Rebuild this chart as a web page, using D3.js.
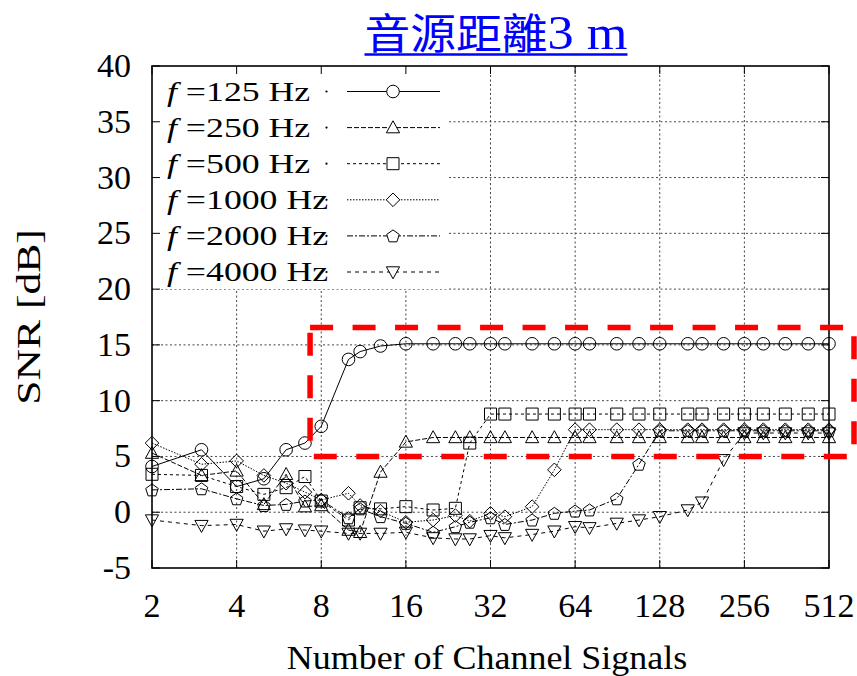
<!DOCTYPE html>
<html>
<head>
<meta charset="utf-8">
<script src="https://cdn.jsdelivr.net/npm/d3@7/dist/d3.min.js"></script>
<style>
  html, body { margin: 0; padding: 0; background: #fff; }
  svg { display: block; }
</style>
</head>
<body>
<script>
// Number of channel signals (x) and SNR per source frequency (dB)
const channels = [2, 3, 4, 5, 6, 7, 8, 10, 11, 13, 16, 20, 24, 27, 32, 36, 45, 54, 64, 72, 90, 108, 128, 161, 181, 216, 256, 299, 358, 432, 512];

const snr125  = [4.1, 5.6, 2.3, 3.0, 5.6, 6.2, 7.7, 13.7, 14.4, 14.9, 15.1, 15.1, 15.1, 15.1, 15.1, 15.1, 15.1, 15.1, 15.1, 15.1, 15.1, 15.1, 15.1, 15.1, 15.1, 15.1, 15.1, 15.1, 15.1, 15.1, 15.1];
const snr250  = [5.3, 3.3, 3.7, 0.7, 3.4, 0.5, 0.6, -1.6, -1.8, 3.6, 6.3, 6.7, 6.7, 6.7, 6.7, 6.7, 6.7, 6.7, 6.7, 6.7, 6.7, 6.7, 6.7, 6.7, 6.7, 6.7, 6.7, 6.7, 6.7, 6.7, 6.7];
const snr500  = [3.4, 3.3, 2.3, 1.6, 2.2, 3.2, 1.0, -0.7, 0.4, 0.3, 0.5, 0.2, 0.35, 6.2, 8.8, 8.8, 8.8, 8.8, 8.8, 8.8, 8.8, 8.8, 8.8, 8.8, 8.8, 8.8, 8.8, 8.8, 8.8, 8.8, 8.8];
const snr1000 = [6.2, 4.3, 4.6, 3.3, 2.6, 1.8, 1.1, 1.7, 0.6, 0.1, -0.9, -0.7, -0.3, -0.8, -0.1, -0.4, 0.5, 3.8, 7.4, 7.4, 7.4, 7.4, 7.4, 7.4, 7.4, 7.4, 7.4, 7.4, 7.4, 7.4, 7.4];
const snr2000 = [2.0, 2.1, 1.2, 0.6, 0.7, 1.0, 1.1, -0.5, 0.3, -0.4, -1.0, -1.8, -1.3, -0.9, -0.5, -1.1, -0.7, -0.1, 0.1, 0.2, 1.2, 4.3, 7.3, 7.3, 7.3, 7.3, 7.3, 7.3, 7.3, 7.3, 7.3];
const snr4000 = [-0.7, -1.2, -1.1, -1.7, -1.5, -1.6, -1.7, -1.9, -1.9, -1.9, -1.8, -2.3, -2.4, -2.4, -2.1, -2.3, -2.0, -1.7, -1.3, -1.4, -1.0, -0.7, -0.4, 0.2, 0.9, 4.7, 7.1, 7.1, 7.1, 7.1, 7.1];

const seriesLabels = ["125", "250", "500", "1000", "2000", "4000"];
const seriesValues = [snr125, snr250, snr500, snr1000, snr2000, snr4000];

const xTicks = [2, 4, 8, 16, 32, 64, 128, 256, 512];
const yTicks = [-5, 0, 5, 10, 15, 20, 25, 30, 35, 40];

// Highlighted region (data units; right edge runs past the frame)
const boxX0 = 7.3, boxY0 = 5.0, boxY1 = 16.55;

// ---- drawing ----
const W = 857, H = 676;
const SERIF = "'Liberation Serif', 'Times New Roman', Times, 'DejaVu Serif', serif";
const svg = d3.select("body").append("svg").attr("width", W).attr("height", H);

const x = d3.scaleLog().base(2).domain([2, 512]).range([152, 829]);
const y = d3.scaleLinear().domain([-5, 40]).range([568, 66]);

const styles = [
  { dash: null,        marker: "circle" },
  { dash: "5,2",       marker: "triangle" },
  { dash: "3,3",       marker: "square" },
  { dash: "1.5,1.5",   marker: "diamond" },
  { dash: "6,2,2,2",   marker: "pentagon" },
  { dash: "4,4",       marker: "triangleDown" }
];

function markerPath(kind) {
  const p = d3.path();
  if (kind === "circle") {
    p.arc(0, 0, 6.3, 0, 2 * Math.PI);
  } else if (kind === "square") {
    p.rect(-6, -6, 12, 12);
  } else if (kind === "triangle") {
    p.moveTo(0, -6.8); p.lineTo(6.6, 5.2); p.lineTo(-6.6, 5.2); p.closePath();
  } else if (kind === "triangleDown") {
    p.moveTo(0, 6.8); p.lineTo(6.6, -5.2); p.lineTo(-6.6, -5.2); p.closePath();
  } else if (kind === "diamond") {
    p.moveTo(0, -6.8); p.lineTo(6.8, 0); p.lineTo(0, 6.8); p.lineTo(-6.8, 0); p.closePath();
  } else if (kind === "pentagon") {
    const r = 6.6;
    for (let i = 0; i < 5; i++) {
      const a = -Math.PI / 2 + i * 2 * Math.PI / 5;
      const px = r * Math.cos(a), py = r * Math.sin(a) + 0.6;
      if (i === 0) p.moveTo(px, py); else p.lineTo(px, py);
    }
    p.closePath();
  }
  return p.toString();
}

// grid
const grid = svg.append("g").attr("stroke", "#444").attr("stroke-width", 1).attr("stroke-dasharray", "2,2.5");
grid.selectAll("line.gx").data(xTicks.slice(1, -1)).join("line")
  .attr("x1", d => x(d)).attr("x2", d => x(d)).attr("y1", y(40)).attr("y2", y(-5));
grid.selectAll("line.gy").data(yTicks.slice(1, -1)).join("line")
  .attr("x1", x(2)).attr("x2", x(512)).attr("y1", d => y(d)).attr("y2", d => y(d));

// series
const lineGen = d3.line().x(d => x(d[0])).y(d => y(d[1]));
seriesValues.forEach((vals, i) => {
  const pts = channels.map((c, j) => [c, vals[j]]);
  const g = svg.append("g");
  g.append("path").attr("d", lineGen(pts)).attr("fill", "none")
    .attr("stroke", "#000").attr("stroke-width", 1)
    .attr("stroke-dasharray", styles[i].dash);
  g.selectAll("path.m").data(pts).join("path")
    .attr("d", markerPath(styles[i].marker))
    .attr("transform", d => `translate(${x(d[0])},${y(d[1])})`)
    .attr("fill", "none").attr("stroke", "#000").attr("stroke-width", 1);
});

// key with opaque background
const key = svg.append("g");
key.append("rect").attr("x", x(2) + 1).attr("y", y(40) + 1)
  .attr("width", 446 - x(2)).attr("height", 288 - y(40)).attr("fill", "#fff");
seriesLabels.forEach((lab, i) => {
  const ky = 91.5 + i * 36.1;
  key.append("circle").attr("cx", 326.5).attr("cy", ky).attr("r", 1.1).attr("fill", "#000");
  const t = key.append("text").attr("font-family", SERIF)
    .attr("transform", `translate(167,${ky + 9}) scale(1.3,1)`)
    .attr("font-size", 27.5).attr("fill", "#000");
  t.append("tspan").attr("font-style", "italic").text("f");
  t.append("tspan").text(" =" + lab + " Hz");
  key.append("line").attr("x1", 347).attr("x2", 440).attr("y1", ky).attr("y2", ky)
    .attr("stroke", "#000").attr("stroke-width", 1).attr("stroke-dasharray", styles[i].dash);
  key.append("path").attr("d", markerPath(styles[i].marker))
    .attr("transform", `translate(393,${ky})`).attr("fill", "#fff").attr("stroke", "#000");
});

// frame and ticks
svg.append("rect").attr("x", x(2)).attr("y", y(40)).attr("width", x(512) - x(2)).attr("height", y(-5) - y(40))
  .attr("fill", "none").attr("stroke", "#000").attr("stroke-width", 1.6);
const ticks = svg.append("g").attr("stroke", "#000").attr("stroke-width", 1);
yTicks.forEach(v => {
  ticks.append("line").attr("x1", x(2)).attr("x2", x(2) + 8).attr("y1", y(v)).attr("y2", y(v));
  ticks.append("line").attr("x1", x(512)).attr("x2", x(512) - 8).attr("y1", y(v)).attr("y2", y(v));
});
xTicks.forEach(v => {
  ticks.append("line").attr("x1", x(v)).attr("x2", x(v)).attr("y1", y(40)).attr("y2", y(40) + 8);
  ticks.append("line").attr("x1", x(v)).attr("x2", x(v)).attr("y1", y(-5)).attr("y2", y(-5) - 8);
});

// tick labels
svg.append("g").selectAll("text").data(yTicks).join("text")
  .attr("font-family", SERIF).attr("x", 131).attr("y", d => y(d) + 11)
  .attr("text-anchor", "end").attr("font-size", 34).text(d => d);
svg.append("g").selectAll("text").data(xTicks).join("text")
  .attr("font-family", SERIF).attr("x", d => x(d)).attr("y", 617)
  .attr("text-anchor", "middle").attr("font-size", 34).text(d => d);

// axis titles
svg.append("text").attr("font-family", SERIF)
  .attr("transform", "translate(487,669) scale(1.09,1)")
  .attr("text-anchor", "middle").attr("font-size", 33).text("Number of Channel Signals");
svg.append("text").attr("font-family", SERIF)
  .attr("transform", `translate(40,${(y(40) + y(-5)) / 2}) rotate(-90) scale(1.32,1)`)
  .attr("text-anchor", "middle").attr("font-size", 33).text("SNR [dB]");

// chart title (underlined, slightly widened)
const titleG = svg.append("g").attr("transform", "translate(496,49) scale(1.09,1)");
const title = titleG.append("text").attr("x", 0).attr("y", 0)
  .attr("text-anchor", "middle").attr("fill", "#0000ff");
title.append("tspan").attr("font-family", "'Noto Sans CJK TC', 'Noto Sans CJK SC', sans-serif")
  .attr("font-size", 42).text("音源距離");
title.append("tspan").attr("font-family", SERIF).attr("font-size", 48).text("3 m");
const tb = title.node().getBBox();
titleG.append("line").attr("x1", tb.x).attr("x2", tb.x + tb.width).attr("y1", 5.5).attr("y2", 5.5)
  .attr("stroke", "#0000ff").attr("stroke-width", 2.5);

// highlighted region
svg.append("rect")
  .attr("x", x(boxX0)).attr("y", y(boxY1))
  .attr("width", x(512) + 25 - x(boxX0)).attr("height", y(boxY0) - y(boxY1))
  .attr("fill", "none").attr("stroke", "#ff0000").attr("stroke-width", 5.5)
  .attr("stroke-dasharray", "23,19.5");
</script>
</body>
</html>
